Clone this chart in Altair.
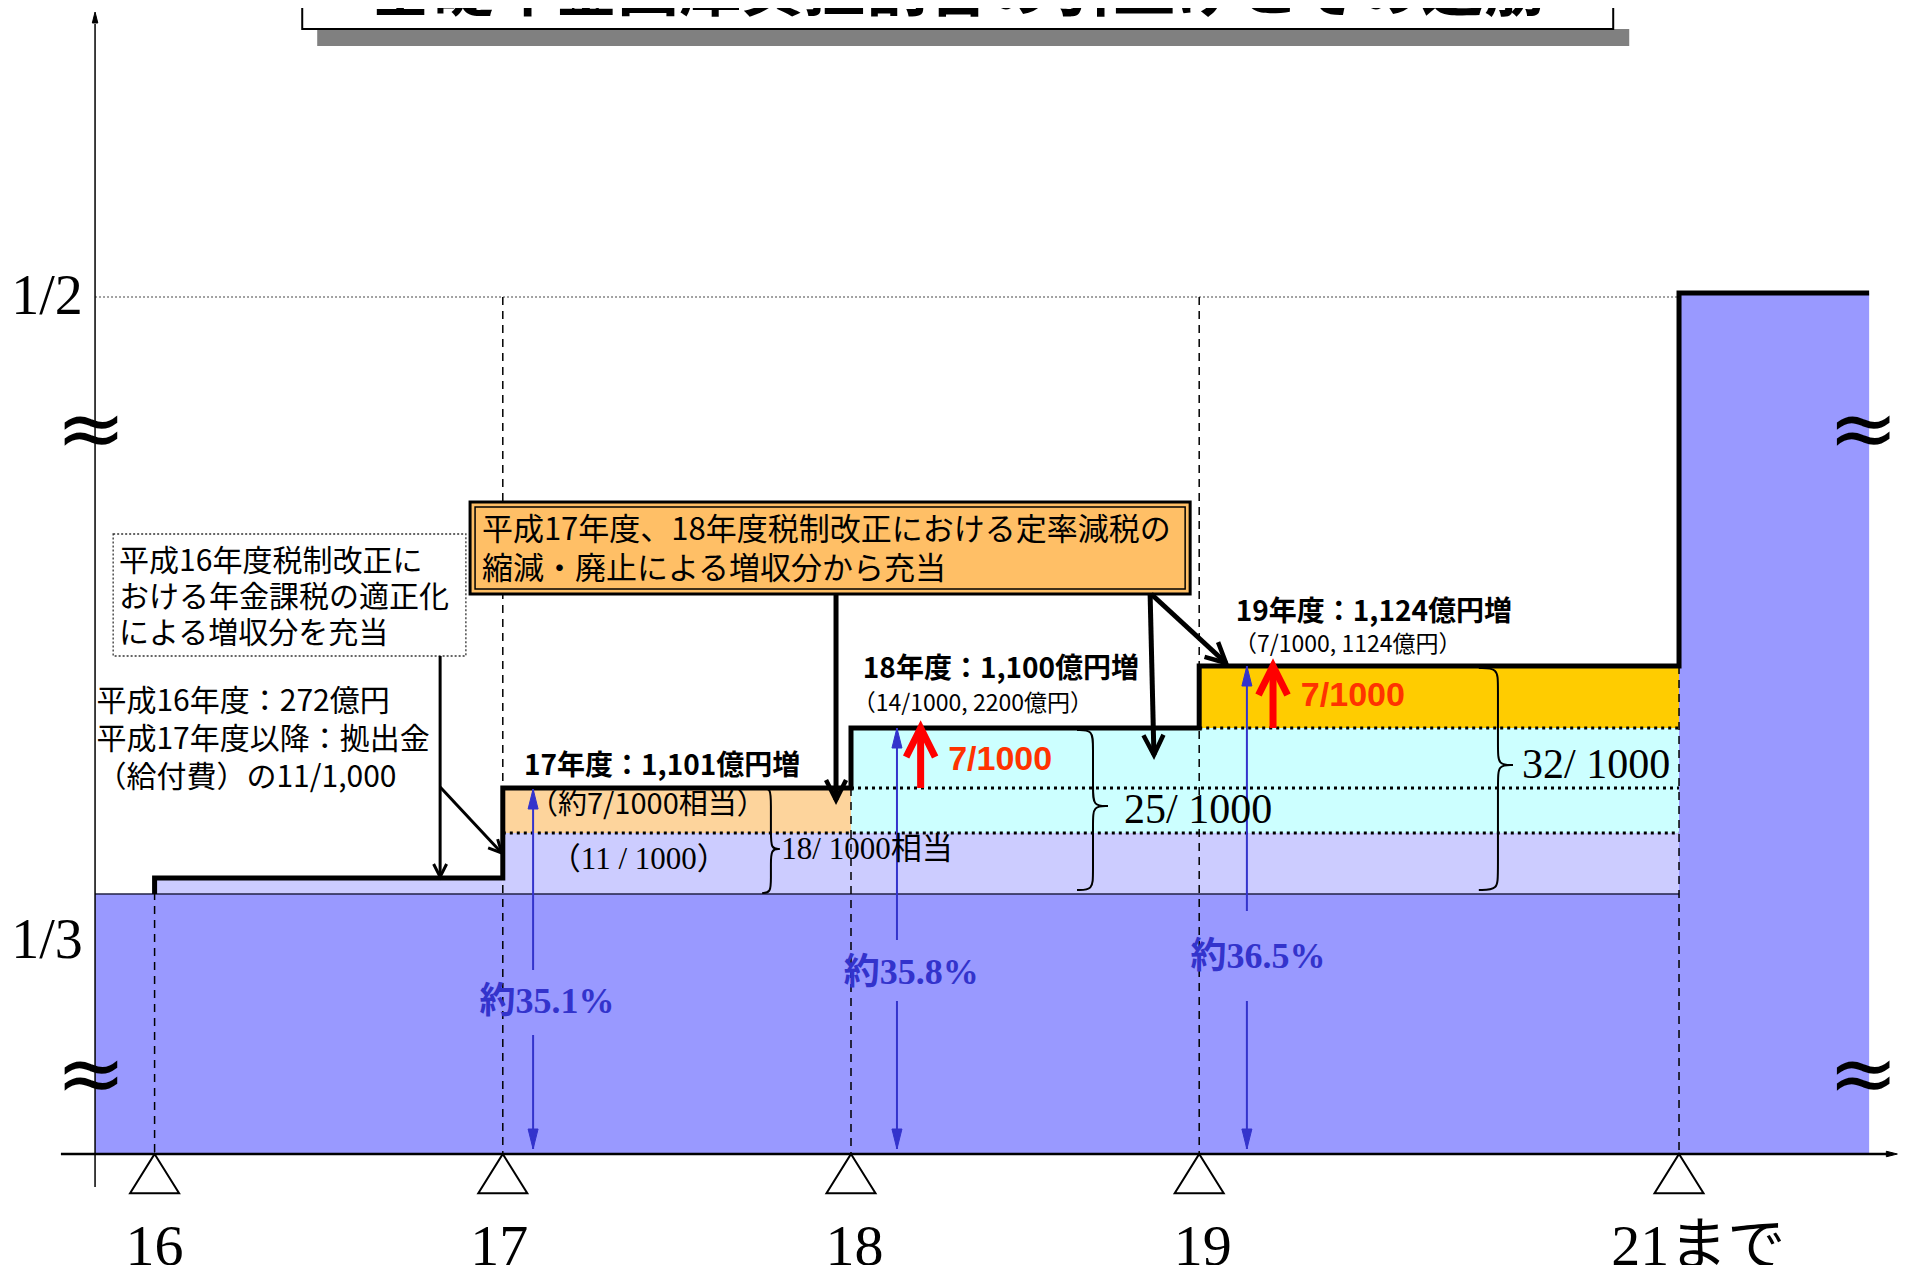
import math
import altair as alt
import pandas as pd

# ---------------- canvas / scales ----------------
W, H = 1893, 1257
X_DOMAIN = [15.579, 21.0155]     # fiscal-year axis (schematic)
Y_DOMAIN = [-11.1, 114.6]        # schematic share level
PX_X = W / (X_DOMAIN[1] - X_DOMAIN[0])
PX_Y = H / (Y_DOMAIN[1] - Y_DOMAIN[0])
XS = alt.Scale(domain=X_DOMAIN, nice=False, zero=False)
YS = alt.Scale(domain=Y_DOMAIN, nice=False, zero=False)

SANS = "Noto Sans CJK JP"
SERIF = "Liberation Serif, Noto Sans CJK JP"

# ---------------- data ----------------
title_text = "基礎年金国庫負担割合の引上げとその道筋"

year_labels = ["16", "17", "18", "19", "21まで"]
year_pos = [16.0, 17.0, 18.0, 19.0, 20.378]
year_label_pos = [16.0, 16.99, 18.01, 19.01, 20.433]

axis_left = 15.829
column_right = 20.924
level_third = 26.0
level_half = 86.1
half_line = 85.7

# step line of the treasury share
step_x = [16.0, 16.0, 17.0, 18.0, 19.0, 20.378, 20.924]
step_y = [26.0, 27.6, 36.6, 42.6, 48.8, 86.1, 86.1]

# coloured bands
band_x1 = [axis_left, 20.378, 16.0, 17.0, 17.0, 18.0, 19.0]
band_x2 = [20.378, column_right, 17.0, 20.378, 18.0, 20.378, 20.378]
band_y1 = [0.0, 0.0, 26.0, 26.0, 32.1, 32.1, 42.6]
band_y2 = [26.0, 86.1, 27.6, 32.1, 36.6, 42.6, 48.8]
band_col = ["#9999FF", "#9999FF", "#CCCCFF", "#CCCCFF", "#FDD49C", "#CCFFFF", "#FFCC00"]

# dotted separators inside the bands
sep_y = [32.1, 36.6, 42.6]
sep_x1 = [17.0, 18.0, 19.0]

# dashed year guides (top level of each guide)
guide_x = [16.0, 17.0, 18.0, 19.0, 20.378]
guide_top = [27.6, 85.7, 36.6, 85.7, 48.8]

# percentage markers
pct_labels = ["約35.1%", "約35.8%", "約36.5%"]
pct_x = [17.087, 18.132, 19.137]
pct_top = [36.5, 42.6, 48.8]
pct_label_x = [17.127, 18.173, 19.169]
pct_label_y = [15.2, 18.1, 19.7]
pct_gap_top = [18.4, 21.4, 24.3]
pct_gap_bot = [11.9, 15.3, 15.3]

# red increments
red_x = [18.20, 19.212]
red_from = [36.6, 42.6]
red_to = [42.6, 48.8]
red_labels = ["7/1000", "7/1000"]
red_label_x = [18.279, 19.292]
red_label_y = [39.4, 45.8]

# black pointer arrows (x1, y1, x2, y2)
thin_arrows = [(16.82, 49.8, 16.82, 27.7), (16.82, 36.7, 16.997, 30.1)]
thick_arrows = [(17.957, 56.0, 17.957, 35.4), (18.859, 56.0, 18.870, 39.9),
                (18.862, 56.0, 19.077, 49.1)]

# braces (end x, spine x, tip x, top, bottom, middle)
braces = [(17.745, 17.770, 17.795, 36.6, 26.1, 30.5),
          (18.649, 18.695, 18.738, 42.4, 26.4, 34.8),
          (19.803, 19.858, 19.901, 48.6, 26.4, 38.9)]
brace_labels = ["18/ 1000相当", "25/ 1000", "32/ 1000"]
brace_label_x = [17.80, 18.784, 19.927]
brace_label_y = [30.4, 34.4, 38.9]
brace_label_size = [31, 42, 42]

# boxes
callout_box = (16.906, 18.974, 56.0, 65.2)
note_box = (15.881, 16.894, 49.8, 62.0)
title_box = (16.424, 20.189, 112.5, 130.0)
title_shadow = (16.467, 20.235, 110.8, 112.5)

note_box_lines = ["平成16年度税制改正に", "おける年金課税の適正化", "による増収分を充当"]
note_box_y = [59.2, 55.6, 52.0]
note_lines = ["平成16年度：272億円", "平成17年度以降：拠出金", "（給付費）の11/1,000"]
note_y = [45.2, 41.4, 37.6]
callout_lines = ["平成17年度、18年度税制改正における定率減税の", "縮減・廃止による増収分から充当"]
callout_y = [62.3, 58.4]

bold_labels = ["17年度：1,101億円増", "18年度：1,100億円増", "19年度：1,124億円増"]
bold_x = [17.061, 18.034, 19.105]
bold_y = [38.7, 48.4, 54.1]
sub_labels = ["（14/1000, 2200億円）", "（7/1000, 1124億円）"]
sub_x = [18.005, 19.10]
sub_y = [45.0, 50.9]

# ---------------- helpers ----------------
def X(f):
    return alt.X(f"{f}:Q", scale=XS, axis=None)


def Y(f):
    return alt.Y(f"{f}:Q", scale=YS, axis=None)


def rect_layer(x1, x2, y1, y2, **kw):
    df = pd.DataFrame({"x1": [x1], "x2": [x2], "y1": [y1], "y2": [y2]})
    return alt.Chart(df).mark_rect(**kw).encode(
        x=X("x1"), x2=alt.X2("x2"), y=Y("y1"), y2=alt.Y2("y2"))


def seg_layer(rows, **kw):
    df = pd.DataFrame(rows, columns=["x1", "y1", "x2", "y2"])
    return alt.Chart(df).mark_rule(**kw).encode(
        x=X("x1"), y=Y("y1"), x2=alt.X2("x2"), y2=alt.Y2("y2"))


def text_layer(xs, ys, ts, **kw):
    df = pd.DataFrame({"x": xs, "y": ys, "t": ts})
    return alt.Chart(df).mark_text(**kw).encode(x=X("x"), y=Y("y"), text="t:N")


def head_angle(x1, y1, x2, y2):
    dx = (x2 - x1) * PX_X
    dy = -(y2 - y1) * PX_Y
    return math.degrees(math.atan2(-dx, dy)) % 360


def head_layer(heads, shape, size, filled, color, sw=2.0):
    df = pd.DataFrame(heads, columns=["x", "y", "a"])
    kw = dict(shape=shape, size=size, filled=filled, opacity=1, strokeWidth=sw)
    if filled:
        kw["fill"] = color
        kw["stroke"] = color
    else:
        kw["stroke"] = color
    return alt.Chart(df).mark_point(**kw).encode(
        x=X("x"), y=Y("y"), angle=alt.Angle("a:Q", scale=None))


CHEVRON = "M-0.5,-1L0,0L0.5,-1"
SOLID_HEAD = "M0,0L-0.5,-2L0.5,-2Z"

layers = []

# bands
band_df = pd.DataFrame({"x1": band_x1, "x2": band_x2, "y1": band_y1, "y2": band_y2, "c": band_col})
layers.append(alt.Chart(band_df).mark_rect().encode(
    x=X("x1"), x2=alt.X2("x2"), y=Y("y1"), y2=alt.Y2("y2"),
    fill=alt.Fill("c:N", scale=None)))

# base top line and 1/2 dotted line
layers.append(seg_layer([(axis_left, level_third, 20.378, level_third)], color="#222244", strokeWidth=1.5))
layers.append(seg_layer([(axis_left, half_line, 20.378, half_line)], color="#444444",
                        strokeWidth=1.2, strokeDash=[2, 2]))
# dotted separators
layers.append(seg_layer([(sx, sy, 20.378, sy) for sx, sy in zip(sep_x1, sep_y)],
                        color="black", strokeWidth=3, strokeDash=[3, 4]))
# dashed year guides
layers.append(seg_layer([(gx, gt, gx, 0.0) for gx, gt in zip(guide_x, guide_top)],
                        color="black", strokeWidth=1.5, strokeDash=[8, 6]))

# step line
step_df = pd.DataFrame({"x": step_x, "y": step_y, "i": list(range(len(step_x)))})
layers.append(alt.Chart(step_df).mark_line(
    interpolate="step-after", color="black", strokeWidth=5, strokeJoin="miter").encode(
    x=X("x"), y=Y("y"), order=alt.Order("i:Q")))

# title box with shadow
layers.append(rect_layer(*title_shadow[:2], *title_shadow[2:], color="#808080"))
layers.append(rect_layer(title_box[0], title_box[1], title_box[2], title_box[3],
                         fill="white", stroke="black", strokeWidth=2))
layers.append(text_layer([18.305], [114.3], [title_text], font=SANS, fontSize=62,
                         fontWeight="bold", align="center", baseline="alphabetic"))

# callout box (double border)
ix, iy = 5 / PX_X, 5 / PX_Y
layers.append(rect_layer(callout_box[0], callout_box[1], callout_box[2], callout_box[3],
                         fill="#FFBF66", stroke="black", strokeWidth=3))
layers.append(rect_layer(callout_box[0] + ix, callout_box[1] - ix, callout_box[2] + iy,
                         callout_box[3] - iy, fillOpacity=0, stroke="black", strokeWidth=1.5))
# dotted note box
layers.append(rect_layer(note_box[0], note_box[1], note_box[2], note_box[3],
                         fill="white", stroke="#333333", strokeWidth=1.3, strokeDash=[2, 2]))

# black arrows
layers.append(seg_layer(thin_arrows, color="black", strokeWidth=3))
layers.append(seg_layer(thick_arrows, color="black", strokeWidth=5))
layers.append(head_layer([(a[2], a[3], head_angle(*a)) for a in thin_arrows],
                         CHEVRON, 26 ** 2, False, "black", 3))
layers.append(head_layer([(a[2], a[3], head_angle(*a)) for a in thick_arrows],
                         CHEVRON, 40 ** 2, False, "black", 4.5))

# blue percentage arrows
blue_rows = []
blue_heads = []
for px_, top, gt, gb in zip(pct_x, pct_top, pct_gap_top, pct_gap_bot):
    blue_rows.append((px_, top, px_, gt))
    blue_rows.append((px_, gb, px_, 0.5))
    blue_heads.append((px_, top, 180.0))
    blue_heads.append((px_, 0.5, 0.0))
layers.append(seg_layer(blue_rows, color="#3333CC", strokeWidth=2))
layers.append(head_layer(blue_heads, SOLID_HEAD, 20 ** 2, True, "#3333CC", 1))

# red arrows
layers.append(seg_layer([(x, f, x, t) for x, f, t in zip(red_x, red_from, red_to)],
                        color="#FF0000", strokeWidth=7))
layers.append(head_layer([(x, t, 180.0) for x, t in zip(red_x, red_to)],
                         CHEVRON, 58 ** 2, False, "#FF0000", 7))

# braces
brace_rows = []
for k, (xe, xsp, xt, yt, yb, ym) in enumerate(braces):
    c = 1.6
    upper = [(xe, yt), (xsp, yt), (xsp, yt - c), (xsp, ym + c), (xsp, ym), (xt, ym)]
    lower = [(xe, yb), (xsp, yb), (xsp, yb + c), (xsp, ym - c), (xsp, ym), (xt, ym)]
    for h, pts in enumerate([upper, lower]):
        for i, (bx, by) in enumerate(pts):
            brace_rows.append({"x": bx, "y": by, "g": f"{k}-{h}", "i": i})
layers.append(alt.Chart(pd.DataFrame(brace_rows)).mark_line(
    interpolate="basis", color="black", strokeWidth=2).encode(
    x=X("x"), y=Y("y"), detail="g:N", order=alt.Order("i:Q")))

# axes
layers.append(seg_layer([(15.731, 0.0, 20.99, 0.0)], color="black", strokeWidth=2.5))
layers.append(seg_layer([(axis_left, -3.3, axis_left, 113.0)], color="black", strokeWidth=1.5))
layers.append(head_layer([(21.005, 0.0, 270.0), (axis_left, 114.2, 180.0)],
                         SOLID_HEAD, 11 ** 2, True, "black", 1))
# year triangles
tri_df = pd.DataFrame({"x": year_pos, "y": [0.0] * len(year_pos)})
layers.append(alt.Chart(tri_df).mark_point(
    shape="M0,0L1,1.6L-1,1.6Z", size=49 ** 2, filled=True, fill="white",
    stroke="black", strokeWidth=2, opacity=1).encode(x=X("x"), y=Y("y")))

# texts
layers.append(text_layer(year_label_pos, [-9.4] * 5, year_labels, font=SERIF,
                         fontSize=58, align="center", baseline="middle"))
layers.append(text_layer([15.691, 15.691], [half_line, 21.3], ["1/2", "1/3"], font=SERIF,
                         fontSize=56, align="center", baseline="middle"))
layers.append(text_layer([15.898] * 3, note_box_y, note_box_lines, font=SANS, fontSize=30,
                         align="left", baseline="middle"))
layers.append(text_layer([15.833] * 3, note_y, note_lines, font=SANS, fontSize=30,
                         align="left", baseline="middle"))
layers.append(text_layer([16.94] * 2, callout_y, callout_lines, font=SANS, fontSize=31,
                         align="left", baseline="middle"))
layers.append(text_layer(bold_x, bold_y, bold_labels, font=SANS, fontSize=28,
                         fontWeight="bold", align="left", baseline="middle"))
layers.append(text_layer(sub_x, sub_y, sub_labels, font=SANS, fontSize=23,
                         align="left", baseline="middle"))
layers.append(text_layer([17.075], [34.9], ["（約7/1000相当）"], font=SANS, fontSize=29,
                         align="left", baseline="middle"))
layers.append(text_layer([17.135], [29.4], ["（11 / 1000）"], font=SERIF, fontSize=31,
                         align="left", baseline="middle"))
for bx, by, bt, bs in zip(brace_label_x, brace_label_y, brace_labels, brace_label_size):
    layers.append(text_layer([bx], [by], [bt], font=SERIF, fontSize=bs,
                             align="left", baseline="middle"))
layers.append(text_layer(pct_label_x, pct_label_y, pct_labels, font=SERIF, fontSize=36,
                         fontWeight="bold", color="#3333CC", align="center", baseline="middle"))
layers.append(text_layer(red_label_x, red_label_y, red_labels, font="Liberation Sans",
                         fontSize=34, fontWeight="bold", color="#FF3300",
                         align="left", baseline="middle"))
# axis break marks
layers.append(text_layer([15.817, 15.817, 20.907, 20.907], [72.2, 7.7, 72.2, 7.7],
                         ["≈"] * 4, font="DejaVu Sans", fontSize=84,
                         align="center", baseline="middle"))

chart = alt.layer(*layers).properties(
    width=W, height=H, padding=0, autosize=alt.AutoSizeParams(type="none")
).configure_view(stroke=None)

chart.save("out.html", embed_options={"renderer": "svg", "actions": False})
